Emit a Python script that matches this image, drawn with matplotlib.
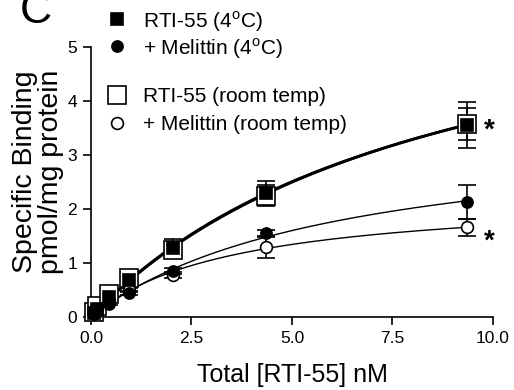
import numpy as np
import matplotlib
matplotlib.use('Agg')
import matplotlib.pyplot as plt
from matplotlib.lines import Line2D

plt.rcParams['font.family'] = ['Liberation Sans', 'DejaVu Sans']
plt.rcParams['mathtext.fontset'] = 'custom'
plt.rcParams['mathtext.rm'] = 'Liberation Sans'

# concentrations (nM)
conc = [0.08, 0.15, 0.45, 0.95, 2.05, 4.35, 9.35]

rti_4c = [0.08, 0.15, 0.38, 0.68, 1.28, 2.30, 3.56]
rti_4c_err = [0.02, 0.03, 0.04, 0.06, 0.17, 0.22, 0.42]
mel_4c = [0.05, 0.10, 0.25, 0.45, 0.85, 1.55, 2.13]
mel_4c_err = [0.02, 0.02, 0.03, 0.04, 0.05, 0.06, 0.32]
rti_rt = [0.10, 0.20, 0.42, 0.72, 1.25, 2.25, 3.58]
rti_rt_err = [0.02, 0.03, 0.04, 0.05, 0.12, 0.20, 0.30]
mel_rt = [0.07, 0.15, 0.30, 0.50, 0.78, 1.30, 1.66]
mel_rt_err = [0.02, 0.02, 0.03, 0.03, 0.05, 0.20, 0.15]

labels = ['RTI-55 (4$^{\\rm o}$C)', '+ Melittin (4$^{\\rm o}$C)',
          'RTI-55 (room temp)', '+ Melittin (room temp)']


def fit_curve(x, y):
    # one-site hyperbola B*x/(K+x), least squares over K
    x = np.array(x)
    y = np.array(y)
    best = None
    for k in np.linspace(0.5, 30, 3000):
        f = x / (k + x)
        b = (f * y).sum() / (f * f).sum()
        r = ((y - b * f) ** 2).sum()
        if best is None or r < best[0]:
            best = (r, b, k)
    return best[1], best[2]


W, H = 514, 390
fig = plt.figure(figsize=(W / 100, H / 100), dpi=100)
ax = fig.add_axes([0.177, 0.187, 0.782, 0.692])

xs = np.linspace(0, 9.35, 200)
series = [
    (rti_4c, rti_4c_err, 's', 'black', 8.5, 2.0),
    (mel_4c, mel_4c_err, 'o', 'black', 8, 1.0),
    (rti_rt, rti_rt_err, 's', 'white', 12.5, 2.0),
    (mel_rt, mel_rt_err, 'o', 'white', 8.5, 1.0),
]
for vals, err, mk, fc, ms, lw in series:
    b, k = fit_curve(conc, vals)
    ax.plot(xs, b * xs / (k + xs), color='black', lw=lw, zorder=2)
    ax.errorbar(conc, vals, yerr=err, fmt='none', ecolor='black',
                elinewidth=1.2, capsize=6.5, capthick=1.2, zorder=3)
for vals, err, mk, fc, ms, lw in series:
    ax.plot(conc, vals, mk, mfc=fc, mec='black', mew=1.2, ms=ms,
            ls='none', zorder=4 if fc == 'black' else 3.5, clip_on=False)

ax.text(9.78, 3.45, '*', fontsize=20, fontweight='bold', va='center')
ax.text(9.78, 1.40, '*', fontsize=20, fontweight='bold', va='center')

ax.set_xlim(0, 10)
ax.set_ylim(0, 5)
ax.set_xticks([0, 2.5, 5, 7.5, 10])
ax.set_xticklabels(['0.0', '2.5', '5.0', '7.5', '10.0'])
ax.set_yticks([0, 1, 2, 3, 4, 5])
ax.spines['top'].set_visible(False)
ax.spines['right'].set_visible(False)
ax.spines['left'].set_linewidth(1.2)
ax.spines['bottom'].set_linewidth(1.2)
ax.tick_params(direction='out', length=6, width=1.2, labelsize=12.5, pad=4)
ax.set_xlabel('Total [RTI-55] nM', fontsize=18, labelpad=12)
ax.set_ylabel('Specific Binding\npmol/mg protein', fontsize=20.5,
              linespacing=1.0)
ax.yaxis.set_label_coords(-0.068, 0.54)

# legend drawn by hand: two groups with a gap
leg_rows = [19, 46, 95, 123]
for (vals, err, mk, fc, ms, lw), lab, row in zip(series, labels, leg_rows):
    yf = 1 - row / H
    fig.add_artist(Line2D([117 / W], [yf], transform=fig.transFigure,
                          marker=mk, mfc=fc, mec='black', mew=1.2, ms=ms,
                          ls='none'))
    fig.text(143 / W, yf, lab, fontsize=15, va='center_baseline', ha='left')

fig.text(20 / W, 1 - 23 / H, 'C', fontsize=32, va='baseline', ha='left')

fig.savefig('out.png', dpi=100)
